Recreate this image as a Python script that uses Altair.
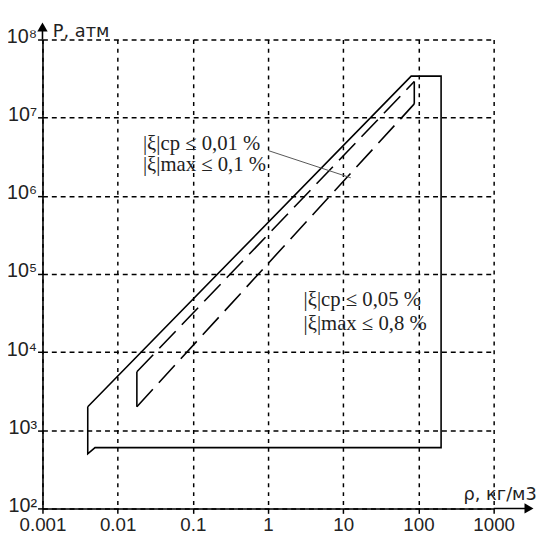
import altair as alt
import pandas as pd

# ---- data ----
x_ticks = [0.001, 0.01, 0.1, 1, 10, 100, 1000]
y_ticks = [1e2, 1e3, 1e4, 1e5, 1e6, 1e7, 1e8]

outer_rho = [0.004, 0.004, 0.005, 200, 200, 80, 0.004]
outer_p = [2000, 500, 600, 600, 3.4e7, 3.4e7, 2000]

upper_rho = [0.018, 88]
upper_p = [5600, 2.9e7]
lower_rho = [0.018, 88]
lower_p = [2000, 1.5e7]
left_rho = [0.018, 0.018]
left_p = [2000, 5600]
right_rho = [88, 88]
right_p = [1.5e7, 2.9e7]

lead_rho = [1.0, 12.6]
lead_p = [3.8e6, 1.7e6]

notes_text = ["|ξ|ср ≤ 0,01 %", "|ξ|max ≤ 0,1 %", "|ξ|ср ≤ 0,05 %", "|ξ|max ≤ 0,8 %"]
notes_rho = [0.0217, 0.0217, 2.97, 2.97]
notes_p = [4.63e6, 2.5e6, 4.58e4, 2.28e4]

# axis extensions and arrow heads (beyond the domain)
yext_rho = [0.001, 0.001]
yext_p = [1e8, 10 ** 8.15]
xext_rho = [1000, 10 ** 3.45]
xext_p = [100, 100]
arrow_rho = [0.001, 10 ** 3.47]
arrow_p = [10 ** 8.16, 100]
arrow_shape = ["triangle-up", "triangle-right"]

SUP = "['⁰','¹','²','³','⁴','⁵','⁶','⁷','⁸','⁹']"

x_enc = alt.X(
    "rho:Q",
    scale=alt.Scale(type="log", domain=[0.001, 1000]),
    axis=alt.Axis(
        values=x_ticks, format="~g", title="ρ, кг/м3",
        titleX=427, titleY=-9, titleAlign="left", titleBaseline="alphabetic",
        titleAngle=0,
        labelFlush=False, labelOverlap=False, labelPadding=2,
        labelFontSize=19,
        gridDash=[4, 5],
    ),
)
y_enc = alt.Y(
    "p:Q",
    scale=alt.Scale(type="log", domain=[1e2, 1e8]),
    axis=alt.Axis(
        values=y_ticks,
        labelExpr="'10' + " + SUP + "[round(log(datum.value)/LN10)]",
        title="P, атм",
        titleX=10, titleY=-3, titleAlign="left", titleBaseline="alphabetic",
        titleAngle=0,
        labelFlush=False, labelOverlap=False, labelPadding=1,
        labelOffset=-3,
        gridDash=[5, 4],
    ),
)


def line_layer(rho, p, dash=None, width=1.6):
    df = pd.DataFrame({"rho": rho, "p": p, "o": list(range(len(rho)))})
    kw = dict(color="black", strokeWidth=width, clip=False)
    if dash is not None:
        kw["strokeDash"] = dash
    return alt.Chart(df).mark_line(**kw).encode(
        x=x_enc, y=y_enc, order="o:O"
    )


outer = line_layer(outer_rho, outer_p)
upper = line_layer(upper_rho, upper_p, dash=[24, 9])
lower = line_layer(lower_rho, lower_p, dash=[24, 9])
left = line_layer(left_rho, left_p)
right = line_layer(right_rho, right_p)
lead = alt.Chart(pd.DataFrame({"rho": lead_rho, "p": lead_p, "o": [0, 1]})).mark_line(
    color="#555555", strokeWidth=1
).encode(x=x_enc, y=y_enc, order="o:O")
yext = line_layer(yext_rho, yext_p, width=1.6)
xext = line_layer(xext_rho, xext_p, width=1.6)

arrows = alt.Chart(
    pd.DataFrame({"rho": arrow_rho, "p": arrow_p, "s": arrow_shape})
).mark_point(filled=True, color="black", opacity=1, size=110, clip=False).encode(
    x=x_enc, y=y_enc, shape=alt.Shape("s:N", scale=None)
)

notes = alt.Chart(
    pd.DataFrame({"rho": notes_rho, "p": notes_p, "t": notes_text})
).mark_text(
    align="left", baseline="middle", font="Liberation Serif", fontSize=21,
    color="#222222",
).encode(x=x_enc, y=y_enc, text="t:N")

chart = alt.layer(
    outer, upper, lower, left, right, lead, yext, xext, arrows, notes
).properties(
    width=458, height=476,
    autosize=alt.AutoSizeParams(type="none"),
    padding={"left": 35, "top": 28, "right": 44, "bottom": 24},
).configure_view(stroke=None).configure_axis(
    grid=True, gridColor="black", gridWidth=1.5, gridOpacity=1,
    domainColor="black", domainWidth=1.6,
    tickColor="black", tickSize=5, tickWidth=1.5,
    labelFont="Liberation Sans", labelFontSize=20, labelColor="#222222",
    titleFont="DejaVu Sans", titleFontSize=18, titleFontWeight="normal",
    titleColor="#222222",
)

chart.save("out.html", embed_options={"renderer": "svg", "actions": False})
